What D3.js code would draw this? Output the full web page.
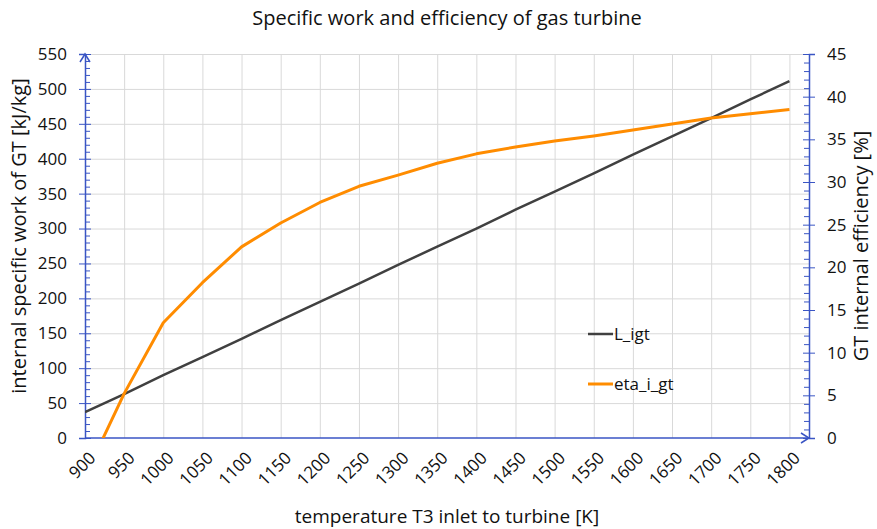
<!DOCTYPE html>
<html>
<head>
<meta charset="utf-8">
<script src="https://cdn.jsdelivr.net/npm/d3@7"></script>
<style>
  body { margin: 0; background: #fff; }
  text { font-family: "Open Sans", "Noto Sans", sans-serif; fill: #111; }
</style>
</head>
<body>
<svg id="chart" width="877" height="529"></svg>
<script>
// --- Data ---
const temps = [900, 950, 1000, 1050, 1100, 1150, 1200, 1250, 1300, 1350, 1400, 1450, 1500, 1550, 1600, 1650, 1700, 1750, 1800];
const workValues = [37, 63, 90, 116, 142, 169, 195, 221, 248, 274, 300, 327, 353, 379, 406, 432, 458, 485, 511];
const etaValues = [-4.5, 5.2, 13.5, 18.2, 22.4, 25.2, 27.6, 29.5, 30.8, 32.2, 33.3, 34.1, 34.8, 35.4, 36.1, 36.8, 37.5, 38.0, 38.5];
const xTicks = d3.range(900, 1801, 50);
const leftTicks = d3.range(0, 551, 50);
const rightTicks = d3.range(0, 46, 5);

// --- Setup ---
const svg = d3.select("#chart");
const margin = { left: 85, right: 68, top: 54, bottom: 91 };
const width = 877, height = 529;
const axisColor = "#3a55c4";

const x = d3.scaleLinear().domain([900, 1825]).range([margin.left, width - margin.right]);
const yL = d3.scaleLinear().domain([0, 550]).range([height - margin.bottom, margin.top]);
const yR = d3.scaleLinear().domain([0, 45]).range([height - margin.bottom, margin.top]);

svg.append("defs").append("clipPath").attr("id", "plot-clip")
    .append("rect")
    .attr("x", margin.left).attr("y", margin.top)
    .attr("width", x.range()[1] - margin.left).attr("height", yL(0) - margin.top);

// --- Grid ---
const grid = svg.append("g").attr("stroke", "#d9d9d9").attr("stroke-width", 1);
grid.selectAll("line.h").data(leftTicks.slice(1)).join("line")
    .attr("x1", margin.left).attr("x2", x.range()[1])
    .attr("y1", d => yL(d) + 0.5).attr("y2", d => yL(d) + 0.5);
grid.selectAll("line.v").data(xTicks.slice(1)).join("line")
    .attr("y1", margin.top).attr("y2", yL(0))
    .attr("x1", d => x(d) + 0.5).attr("x2", d => x(d) + 0.5);

// --- Axes ---
const gLeft = svg.append("g").attr("transform", `translate(${margin.left},0)`)
    .call(d3.axisLeft(yL).tickValues(leftTicks).tickSize(6).tickPadding(12));
gLeft.selectAll(".tick line").attr("x2", -6).attr("x1", 6);
gLeft.append("g").selectAll("line").data(d3.range(0, 551, 10).filter(d => d % 50 !== 0)).join("line")
    .attr("x1", 0).attr("x2", 5).attr("y1", d => yL(d) + 0.5).attr("y2", d => yL(d) + 0.5);

const gRight = svg.append("g").attr("transform", `translate(${x.range()[1]},0)`)
    .call(d3.axisRight(yR).tickValues(rightTicks).tickSize(6).tickPadding(12));
gRight.selectAll(".tick line").attr("x1", -6).attr("x2", 6);
gRight.append("g").selectAll("line").data(d3.range(0, 46, 1).filter(d => d % 5 !== 0)).join("line")
    .attr("x1", 0).attr("x2", -5).attr("y1", d => yR(d) + 0.5).attr("y2", d => yR(d) + 0.5);

const gBottom = svg.append("g").attr("transform", `translate(0,${yL(0)})`)
    .call(d3.axisBottom(x).tickValues(xTicks).tickFormat(d3.format("d")).tickSize(0).tickPadding(0));
gBottom.selectAll(".tick text")
    .attr("text-anchor", "end")
    .attr("transform", "translate(7,17) rotate(-45)")
    .attr("dy", "0.35em");

[gLeft, gRight, gBottom].forEach(g => {
    g.select(".domain").attr("stroke", axisColor).attr("stroke-width", 1.5);
    g.selectAll("line").attr("stroke", axisColor).attr("stroke-width", 1);
    g.selectAll(".tick text").style("font-size", "17px").attr("fill", "#111")
        .style("font-family", "'Open Sans', sans-serif");
});
gBottom.select(".domain").attr("d", `M${margin.left},0H${x.range()[1]}`);

// arrow heads
const arrows = svg.append("g").attr("fill", "none").attr("stroke", axisColor).attr("stroke-width", 1.5);
arrows.append("path")
    .attr("d", `M${margin.left - 5},${margin.top + 8}L${margin.left},${margin.top}L${margin.left + 5},${margin.top + 8}`);
arrows.append("path")
    .attr("d", `M${x.range()[1] - 8},${yL(0) - 5}L${x.range()[1]},${yL(0)}L${x.range()[1] - 8},${yL(0) + 5}`);

// --- Lines ---
const plot = svg.append("g").attr("clip-path", "url(#plot-clip)");
const workLine = d3.line().x((d, i) => x(temps[i])).y(d => yL(d));
const etaLine = d3.line().x((d, i) => x(temps[i])).y(d => yR(d));

plot.append("path").datum(workValues)
    .attr("d", workLine).attr("fill", "none")
    .attr("stroke", "#404040").attr("stroke-width", 2.5);
plot.append("path").datum(etaValues)
    .attr("d", etaLine).attr("fill", "none")
    .attr("stroke", "#ff8c00").attr("stroke-width", 3).attr("stroke-linejoin", "round");

// --- Legend ---
const legend = svg.append("g").attr("transform", "translate(588,334)");
[{ name: "L_igt", color: "#404040", dy: 0 }, { name: "eta_i_gt", color: "#ff8c00", dy: 50 }].forEach(s => {
    legend.append("line").attr("x1", 0).attr("x2", 25).attr("y1", s.dy).attr("y2", s.dy)
        .attr("stroke", s.color).attr("stroke-width", s.name === "L_igt" ? 2.5 : 3);
    legend.append("text").attr("x", 26).attr("y", s.dy).attr("dy", "0.35em")
        .style("font-size", "17px").text(s.name);
});

// --- Titles ---
svg.append("text").attr("x", 447).attr("y", 25).attr("text-anchor", "middle")
    .style("font-size", "20px").text("Specific work and efficiency of gas turbine");
svg.append("text").attr("x", 447).attr("y", 523).attr("text-anchor", "middle")
    .style("font-size", "19px").text("temperature T3 inlet to turbine [K]");
svg.append("text").attr("transform", `translate(26,${(margin.top + yL(0)) / 2 - 10}) rotate(-90)`)
    .attr("text-anchor", "middle").style("font-size", "20px")
    .text("internal specific work of GT [kJ/kg]");
svg.append("text").attr("transform", `translate(868,${(margin.top + yL(0)) / 2}) rotate(-90)`)
    .attr("text-anchor", "middle").style("font-size", "20px")
    .text("GT internal efficiency [%]");
</script>
</body>
</html>
